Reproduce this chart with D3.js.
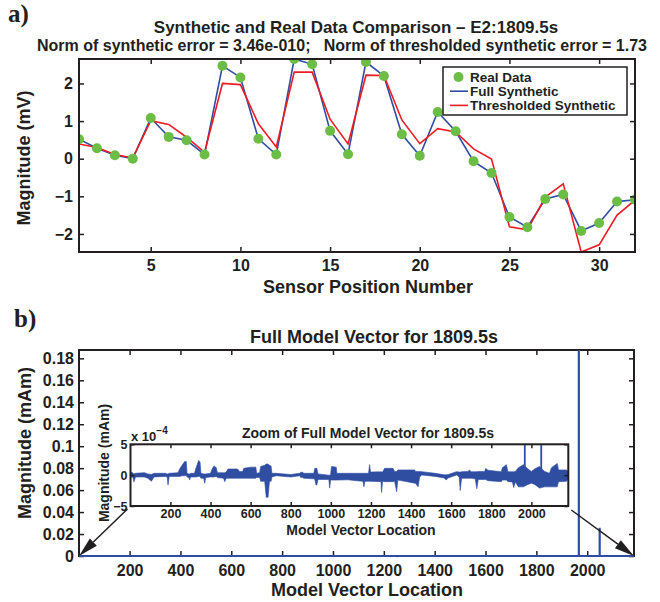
<!DOCTYPE html>
<html>
<head>
<meta charset="utf-8">
<script src="https://cdn.jsdelivr.net/npm/d3@7"></script>
<style>
  body { margin: 0; background: #fff; }
  svg text { font-family: 'Liberation Sans', Arial, Helvetica, sans-serif; font-weight: bold; fill: #231f20; }
  svg text.tag { font-family: 'Liberation Serif', 'Times New Roman', serif; }
</style>
</head>
<body>
<svg id="chart"></svg>
<script>
// ---- panel a) data ----
const sensorPosition = [1, 2, 3, 4, 5, 6, 7, 8, 9, 10, 11, 12, 13, 14, 15, 16,
  17, 18, 19, 20, 21, 22, 23, 24, 25, 26, 27, 28, 29, 30, 31, 32];
const realData = [0.52, 0.28, 0.09, 0.00, 1.08, 0.58, 0.49, 0.11, 2.47, 2.16, 0.53, 0.11, 2.65, 2.51, 0.74, 0.12,
  2.57, 2.20, 0.65, 0.08, 1.24, 0.73, -0.07, -0.38, -1.55, -1.82, -1.07, -0.95, -1.92, -1.71, -1.14, -1.09];
const fullSynthetic = [0.52, 0.28, 0.09, 0.00, 1.08, 0.58, 0.49, 0.11, 2.47, 2.16, 0.53, 0.11, 2.65, 2.51, 0.74, 0.12,
  2.57, 2.20, 0.65, 0.08, 1.24, 0.73, -0.07, -0.38, -1.55, -1.82, -1.07, -0.95, -1.92, -1.71, -1.14, -1.09];
const thresholdedSynthetic = [0.39, 0.30, 0.11, 0.02, 1.01, 0.91, 0.57, 0.17, 2.00, 1.97, 0.93, 0.31, 2.30, 2.30, 1.05, 0.39,
  2.22, 2.21, 1.03, 0.40, 0.80, 0.71, 0.26, -0.01, -1.81, -1.89, -1.02, -0.67, -2.48, -2.29, -1.50, -1.10];
const sensorTicks = [5, 10, 15, 20, 25, 30];
const mvTicks = [-2, -1, 0, 1, 2];

// ---- panel b) data ----
const vectorLength = 2184;
// the two large entries of the model vector [location, mAm]
const spikes = [[1967, 0.1876], [2049, 0.0257]];
// envelope of the small entries: [location, low, high] in 1e-4 mAm
const zoomEnvelope = [
  [1, -0.35, 0.45], [12, -0.3, 0.4], [18, -1.1, 0.2], [26, -0.3, 0.3], [70, -0.3, 0.4], [88, -0.5, 0.2],
  [105, -1.0, 0.1], [118, -0.3, 0.3], [175, -0.2, 0.3], [184, -0.3, 0.2], [188, -1.6, 0.2], [194, -0.2, 0.3],
  [238, -0.2, 0.4], [246, -0.2, 1.0], [258, -0.1, 1.6], [271, -0.1, 2.2], [279, 0.0, 2.2], [283, -0.3, 0.3],
  [292, -0.4, 0.2], [296, -0.8, 0.2], [300, -0.3, 0.3], [320, -0.3, 0.3], [326, -0.3, 1.0], [341, -0.2, 2.4],
  [348, -0.2, 2.1], [352, -0.5, 0.3], [366, -0.5, 0.2], [371, -1.3, 0.2], [376, -0.4, 0.2], [400, -0.3, 0.3],
  [408, -0.3, 1.0], [417, -0.3, 1.5], [429, -0.2, 1.2], [434, -0.4, 0.4], [465, -0.5, 0.4], [471, -1.05, 0.4],
  [478, -0.5, 0.5], [487, -0.5, 1.0], [535, -0.5, 1.0], [545, -0.5, 0.6], [560, -0.5, 0.6], [566, -0.5, 1.1],
  [600, -0.5, 1.3], [626, -0.5, 1.3], [630, -0.35, 0.3], [645, -0.4, 0.4], [650, -1.0, 1.4], [670, -1.0, 1.6],
  [678, -3.6, 1.8], [687, -3.6, 1.8], [694, -1.0, 1.6], [702, -1.0, 1.5], [706, -0.3, 0.3], [728, -0.1, 0.3],
  [800, -0.3, 0.1], [845, -0.1, 0.3], [850, -0.4, 0.45], [860, -0.4, 0.45], [865, -0.5, 0.3], [915, -0.6, 0.3],
  [920, -0.7, 1.1], [926, -1.6, 1.1], [930, -1.6, 1.1], [936, -0.7, 0.2], [990, -0.7, 0.0], [994, -2.1, 0.0],
  [999, -0.8, 0.1], [1003, -0.8, 1.4], [1027, -0.8, 1.3], [1030, -0.8, 0.3], [1085, -0.75, 0.3], [1127, -0.9, 0.3],
  [1160, -1.0, 0.3], [1165, -1.9, 0.3], [1170, -1.0, 0.3], [1188, -1.0, 0.3], [1193, -1.0, 1.7], [1198, -1.0, 0.5],
  [1250, -1.05, 0.55], [1253, -2.8, 0.5], [1258, -1.0, 0.5], [1268, -1.05, 1.1], [1310, -1.05, 1.1], [1318, -1.0, 0.6],
  [1328, -2.7, 0.6], [1334, -0.8, 0.85], [1368, -1.0, 0.85], [1418, -1.3, 0.85], [1422, -1.3, 0.6], [1435, -1.9, 0.6],
  [1443, -0.3, 0.6], [1453, 0.03, 0.57], [1520, -0.2, 0.3], [1565, -0.45, 0.05], [1575, -0.8, 0.05], [1585, -0.45, 0.1],
  [1627, 0.03, 0.57], [1640, -0.3, 0.5], [1645, -2.5, 0.5], [1652, -0.5, 0.55], [1685, -0.5, 0.6], [1690, -0.5, 0.85],
  [1700, -0.5, 0.55], [1720, -0.6, 0.55], [1728, -2.2, 0.55], [1735, -0.7, 0.6], [1767, -0.7, 0.6], [1772, -0.7, 1.1],
  [1783, -0.9, 0.8], [1850, -1.05, 0.55], [1855, -0.8, 1.2], [1875, -0.8, 1.7], [1883, -1.05, 0.55], [1905, -1.1, 0.55],
  [1912, -2.0, 0.55], [1920, -1.1, 0.6], [1935, -1.9, 1.2], [1960, -1.9, 1.7], [1983, -1.5, 1.0], [2000, -1.3, 0.6],
  [2016, -1.5, 1.0], [2040, -2.1, 1.4], [2066, -1.9, 0.6], [2090, -1.9, 0.3], [2100, -1.9, 1.2], [2129, -1.9, 1.9],
  [2135, -1.05, 0.85], [2175, -1.0, 0.85], [2184, -0.6, 0.6]
];
const locationTicks = [200, 400, 600, 800, 1000, 1200, 1400, 1600, 1800, 2000];
const mAmTicks = [0, 0.02, 0.04, 0.06, 0.08, 0.1, 0.12, 0.14, 0.16, 0.18];
const zoomTicks = [-5, 0, 5];

const ink = '#231f20';
const blue = '#2f4ea2';
const red = '#ed1c24';
const green = '#6cbd45';

const svg = d3.select('#chart').attr('width', 660).attr('height', 602);

// MATLAB style box: inward ticks on all four sides
function boxAxes(g, x, y, o) {
  const [xl, xr] = x.range(), [yb, yt] = y.range();
  const t = o.tick || 5;
  const none = () => '';
  const put = (axis, tx, ty) => g.append('g')
    .attr('transform', `translate(${tx},${ty})`)
    .call(axis.tickSizeInner(-t).tickSizeOuter(0))
    .attr('font-size', o.fontSize)
    .attr('font-family', null);
  put(d3.axisBottom(x).tickValues(o.xTicks).tickFormat(o.xFormat).tickPadding(o.xPad), 0, yb);
  put(d3.axisTop(x).tickValues(o.xTicks).tickFormat(none), 0, yt);
  put(d3.axisLeft(y).tickValues(o.yTicks).tickFormat(o.yFormat).tickPadding(o.yPad), xl, 0);
  put(d3.axisRight(y).tickValues(o.yTicks).tickFormat(none), xr, 0);
  g.selectAll('.domain').remove();
  g.selectAll('.tick line').attr('stroke', ink).attr('stroke-width', 1.5);
  g.append('rect')
    .attr('x', xl).attr('y', yt)
    .attr('width', xr - xl).attr('height', yb - yt)
    .attr('fill', 'none').attr('stroke', ink).attr('stroke-width', 2);
}

// ================= panel a) =================
const topBox = {left: 79, right: 635, top: 59, bottom: 252};
const xA = d3.scaleLinear()
  .domain(d3.extent(sensorPosition))
  .range([topBox.left, topBox.right]);
const yA = d3.scaleLinear()
  .domain(d3.extent(realData.concat(fullSynthetic, thresholdedSynthetic)))
  .range([topBox.bottom, topBox.top]);

const gA = svg.append('g');
svg.append('clipPath').attr('id', 'clipA').append('rect')
  .attr('x', topBox.left).attr('y', topBox.top)
  .attr('width', topBox.right - topBox.left).attr('height', topBox.bottom - topBox.top);

const plotA = gA.append('g').attr('clip-path', 'url(#clipA)');
const lineA = d3.line().x((d, i) => xA(sensorPosition[i])).y(d => yA(d));
plotA.append('path').datum(fullSynthetic)
  .attr('d', lineA).attr('fill', 'none').attr('stroke', blue).attr('stroke-width', 1.6);
plotA.append('path').datum(thresholdedSynthetic)
  .attr('d', lineA).attr('fill', 'none').attr('stroke', red).attr('stroke-width', 1.6);
plotA.selectAll('circle').data(realData).join('circle')
  .attr('cx', (d, i) => xA(sensorPosition[i]))
  .attr('cy', d => yA(d))
  .attr('r', 5)
  .attr('fill', green);

boxAxes(gA.append('g'), xA, yA, {
  xTicks: sensorTicks, yTicks: mvTicks, fontSize: 16,
  xFormat: d3.format('d'), yFormat: d3.format('d'), xPad: 8, yPad: 6
});

gA.append('text').attr('class', 'tag')
  .attr('x', 8).attr('y', 22).attr('font-size', 25).text('a)');
gA.append('text')
  .attr('x', 356).attr('y', 32.5).attr('text-anchor', 'middle').attr('font-size', 17)
  .text('Synthetic and Real Data Comparison \u2013 E2:1809.5s');
gA.append('text')
  .attr('x', 342).attr('y', 51).attr('text-anchor', 'middle').attr('font-size', 16)
  .attr('xml:space', 'preserve').style('white-space', 'pre')
  .text('Norm of synthetic error = 3.46e-010;   Norm of thresholded synthetic error = 1.73');
gA.append('text')
  .attr('x', 368).attr('y', 293).attr('text-anchor', 'middle').attr('font-size', 18)
  .text('Sensor Position Number');
gA.append('text')
  .attr('transform', 'translate(30,158) rotate(-90)')
  .attr('text-anchor', 'middle').attr('font-size', 18)
  .text('Magnitude (mV)');

// legend
const legendItems = [
  {label: 'Real Data', kind: 'marker', color: green},
  {label: 'Full Synthetic', kind: 'line', color: blue},
  {label: 'Thresholded Synthetic', kind: 'line', color: red}
];
const legend = gA.append('g').attr('transform', 'translate(443,67)');
legend.append('rect').attr('width', 184).attr('height', 48)
  .attr('fill', '#fff').attr('stroke', ink).attr('stroke-width', 1.5);
const rows = legend.selectAll('g.row').data(legendItems).join('g')
  .attr('class', 'row')
  .attr('transform', (d, i) => `translate(0,${10 + i * 14.2})`);
rows.filter(d => d.kind === 'marker').append('circle')
  .attr('cx', 15.5).attr('r', 5).attr('fill', d => d.color);
rows.filter(d => d.kind === 'line').append('line')
  .attr('x1', 7).attr('x2', 25).attr('stroke', d => d.color).attr('stroke-width', 1.6);
rows.append('text').attr('x', 27).attr('dy', '0.36em').attr('font-size', 13.5).text(d => d.label);

// ================= panel b) =================
const botBox = {left: 79, right: 634, top: 350, bottom: 556};
const xB = d3.scaleLinear().domain([1, vectorLength]).range([botBox.left, botBox.right]);
const yB = d3.scaleLinear().domain([0, d3.max(spikes, d => d[1])]).range([botBox.bottom, botBox.top]);

const gB = svg.append('g');
boxAxes(gB.append('g'), xB, yB, {
  xTicks: locationTicks, yTicks: mAmTicks, fontSize: 16,
  xFormat: d3.format('d'), yFormat: d3.format('~g'), xPad: 9, yPad: 5
});

// data is drawn over the box, so the near-zero line covers the bottom edge
const lineB = d3.line().x(d => xB(d[0])).y(d => yB((d[1] + d[2]) / 2 * 1e-4));
gB.append('path').datum(zoomEnvelope)
  .attr('d', lineB).attr('fill', 'none').attr('stroke', blue).attr('stroke-width', 2);
gB.selectAll('line.spike').data(spikes).join('line')
  .attr('class', 'spike')
  .attr('x1', d => xB(d[0])).attr('x2', d => xB(d[0]))
  .attr('y1', yB(0)).attr('y2', d => yB(d[1]))
  .attr('stroke', blue).attr('stroke-width', 2.2);

gB.append('text').attr('class', 'tag')
  .attr('x', 14).attr('y', 327).attr('font-size', 25).text('b)');
gB.append('text')
  .attr('x', 374).attr('y', 343).attr('text-anchor', 'middle').attr('font-size', 18)
  .text('Full Model Vector for 1809.5s');
gB.append('text')
  .attr('x', 367).attr('y', 596).attr('text-anchor', 'middle').attr('font-size', 18)
  .text('Model Vector Location');
gB.append('text')
  .attr('transform', 'translate(31,443) rotate(-90)')
  .attr('text-anchor', 'middle').attr('font-size', 18)
  .text('Magnitude (mAm)');

// ---- inset zoom ----
const inBox = {left: 130.5, right: 568.3, top: 444.3, bottom: 506};
const xI = d3.scaleLinear().domain([1, vectorLength]).range([inBox.left, inBox.right]);
const yI = d3.scaleLinear().domain(d3.extent(zoomTicks)).range([inBox.bottom, inBox.top]);

const gI = svg.append('g');
gI.append('rect')
  .attr('x', inBox.left).attr('y', inBox.top)
  .attr('width', inBox.right - inBox.left).attr('height', inBox.bottom - inBox.top)
  .attr('fill', '#fff');
svg.append('clipPath').attr('id', 'clipI').append('rect')
  .attr('x', inBox.left).attr('y', inBox.top)
  .attr('width', inBox.right - inBox.left).attr('height', inBox.bottom - inBox.top);
const plotI = gI.append('g').attr('clip-path', 'url(#clipI)');
plotI.append('path').datum(zoomEnvelope)
  .attr('d', d3.area().x(d => xI(d[0])).y0(d => yI(d[1])).y1(d => yI(d[2])))
  .attr('fill', blue).attr('stroke', blue).attr('stroke-width', 0.6);
plotI.selectAll('line').data(spikes).join('line')
  .attr('x1', d => xI(d[0])).attr('x2', d => xI(d[0]))
  .attr('y1', yI(0)).attr('y2', d => yI(d[1] * 1e4))
  .attr('stroke', blue).attr('stroke-width', 1.8);

boxAxes(gI.append('g'), xI, yI, {
  xTicks: locationTicks, yTicks: zoomTicks, fontSize: 12.5, tick: 4,
  xFormat: d3.format('d'), yFormat: d3.format('d'), xPad: 3, yPad: 3
});

const expo = gI.append('text').attr('x', 131).attr('y', 441).attr('font-size', 13);
expo.append('tspan').text('x 10');
expo.append('tspan').attr('dy', -7).attr('font-size', 10).text('\u22124');
gI.append('text')
  .attr('x', 368).attr('y', 438).attr('text-anchor', 'middle').attr('font-size', 14)
  .text('Zoom of Full Model Vector for 1809.5s');
gI.append('text')
  .attr('x', 361).attr('y', 535).attr('text-anchor', 'middle').attr('font-size', 14)
  .text('Model Vector Location');
gI.append('text')
  .attr('transform', 'translate(109,463) rotate(-90)')
  .attr('text-anchor', 'middle').attr('font-size', 14)
  .text('Magnitude (mAm)');

// arrows from the inset corners to the range they magnify
function arrow(g, from, to) {
  const ang = Math.atan2(to[1] - from[1], to[0] - from[0]);
  const len = 20, half = 5;
  const bx = to[0] - len * Math.cos(ang), by = to[1] - len * Math.sin(ang);
  g.append('line')
    .attr('x1', from[0]).attr('y1', from[1]).attr('x2', bx).attr('y2', by)
    .attr('stroke', ink).attr('stroke-width', 1.5);
  g.append('path')
    .attr('d', `M${to[0]},${to[1]}L${bx + half * Math.sin(ang)},${by - half * Math.cos(ang)}L${bx - half * Math.sin(ang)},${by + half * Math.cos(ang)}Z`)
    .attr('fill', ink);
}
arrow(svg, [xI(1) - 3, yI(-5) + 3], [xB(1), yB(0)]);
arrow(svg, [xI(vectorLength) + 3, yI(-5) + 4], [xB(vectorLength), yB(0)]);
</script>
</body>
</html>
